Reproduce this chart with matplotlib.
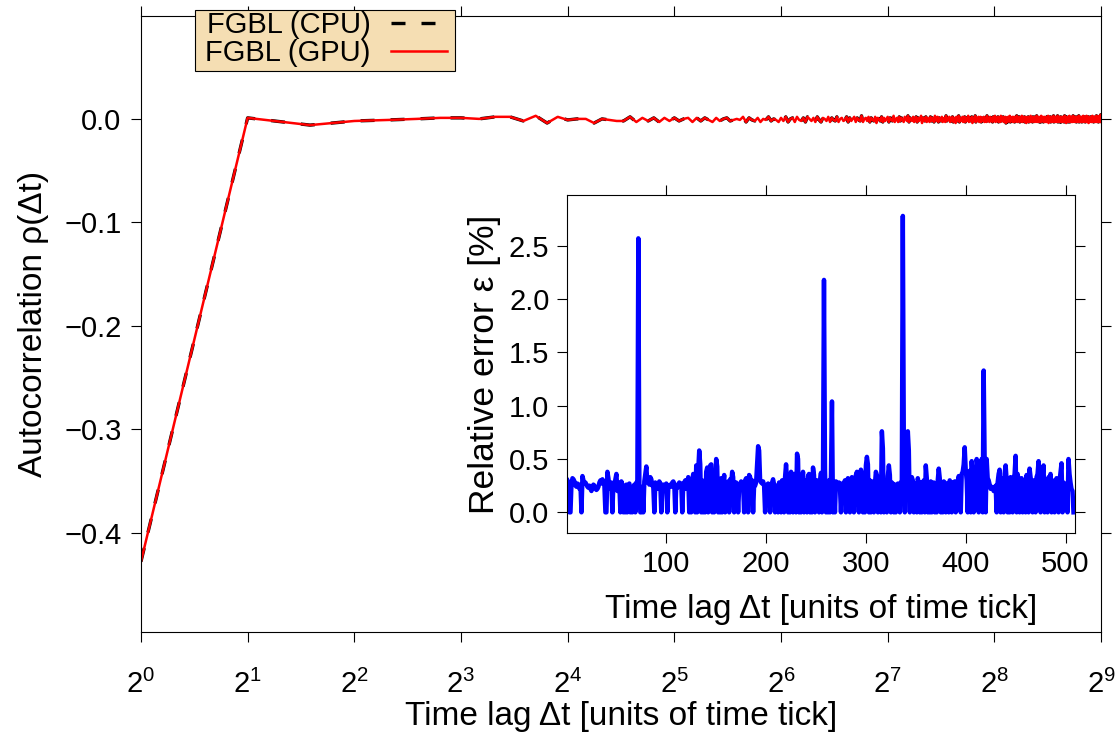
import numpy as np
import matplotlib
matplotlib.use("Agg")
import matplotlib.pyplot as plt
from matplotlib.patches import Rectangle

plt.rcParams["font.family"] = ["Liberation Sans", "DejaVu Sans"]
plt.rcParams["mathtext.fontset"] = "custom"
plt.rcParams["mathtext.rm"] = "Liberation Sans"
plt.rcParams["mathtext.it"] = "Liberation Sans"

# autocorrelation at lags 1..512, in units of 1e-3
acf_milli = [
    -428, 1, -6, -2, -1, 0, 1, 1, 0, 2, 2, -2, 3, -4, 2, -1,
    0, 0, -4, 0, -1, -2, -2, 2, -3, 1, -2, 1, -3, 1, -2, 1,
    -2, 0, 1, -3, 1, -2, 1, -1, -3, 1, -2, 0, 1, -2, -1, 0,
    -1, 2, -3, 1, -1, -2, 1, -3, 0, -1, 2, -2, 0, -1, -3, 1,
    -2, 2, -3, 0, 1, -3, 2, -1, -2, 1, -3, 2, 0, -2, 1, -3,
    2, -1, -3, 1, 0, -2, 2, -3, 1, -1, -2, 2, -3, 0, 1, -2,
    -1, 2, -3, 1, -2, 0, 2, -3, 1, -1, -2, 3, -3, 0, 1, -2,
    2, -3, 1, -1, -2, 2, -4, 1, 0, -2, 2, -3, 1, -2, 0, 2,
    -3, 1, -1, -2, 3, -3, 0, 1, -3, 2, -2, 1, -1, -3, 2, 0,
    -2, 3, -3, 1, -1, -2, 2, -3, 0, 2, -3, 1, -2, 0, 3, -4,
    1, -1, -2, 2, -3, 1, 0, -3, 2, -2, 1, -1, -3, 3, 0, -2,
    2, -3, 1, -1, -2, 2, -3, 0, 1, -3, 3, -2, 0, -1, 2, -3,
    1, -2, 2, -3, 0, 1, -4, 2, -1, -2, 3, -3, 1, -1, -2, 2,
    -3, 0, 2, -3, 1, -2, 0, 3, -3, 1, -1, -2, 2, -4, 1, 0,
    -2, 3, -3, 1, -1, -2, 2, -3, 0, 2, -3, 1, -2, 0, 2, -3,
    1, -1, -3, 3, -2, 0, 1, -3, 2, -2, 1, -1, -3, 2, 0, -2,
    3, -3, 1, -1, -2, 2, -3, 0, 1, -3, 3, -2, 0, -1, 2, -3,
    1, -2, 2, -4, 0, 1, -3, 2, -1, -2, 3, -3, 1, -1, -2, 2,
    -3, 0, 2, -3, 1, -2, 0, 3, -3, 1, -1, -2, 2, -3, 1, 0,
    -2, 3, -3, 1, -1, -2, 2, -3, 0, 2, -4, 1, -2, 0, 2, -3,
    1, -1, -3, 3, -2, 0, 1, -3, 2, -2, 1, -1, -3, 2, 0, -2,
    3, -3, 1, -1, -2, 2, -3, 0, 1, -3, 3, -2, 0, -1, 2, -3,
    1, -2, 2, -3, 0, 1, -3, 2, -1, -2, 3, -4, 1, -1, -2, 2,
    -3, 0, 2, -3, 1, -2, 0, 3, -3, 1, -1, -2, 2, -3, 1, 0,
    -2, 3, -3, 1, -1, -2, 2, -3, 0, 2, -3, 1, -2, 0, 2, -3,
    1, -1, -3, 3, -2, 0, 1, -4, 2, -2, 1, -1, -3, 2, 0, -2,
    3, -3, 1, -1, -2, 2, -3, 0, 1, -3, 3, -2, 0, -1, 2, -3,
    1, -2, 2, -3, 0, 1, -3, 2, -1, -2, 3, -3, 1, -1, -2, 2,
    -3, 0, 2, -3, 1, -2, 0, 3, -3, 1, -1, -2, 2, -3, 1, 0,
    -2, 3, -3, 1, -1, -2, 2, -4, 0, 2, -3, 1, -2, 0, 2, -3,
    1, -1, -3, 3, -2, 0, 1, -3, 2, -2, 1, -1, -3, 2, 0, -2,
    3, -3, 1, -1, -2, 2, -3, 0, 1, -3, 3, -2, 0, -1, 4, -3,
]

# relative error between CPU and GPU at lags 1..508, in units of 0.01 %
err_centi = [
    30, 28, 0, 0, 27, 32, 31, 29, 25, 24,
    27, 25, 22, 26, 0, 34, 30, 27, 28, 26,
    24, 23, 25, 22, 20, 24, 26, 25, 22, 21,
    22, 24, 28, 30, 27, 31, 29, 25, 0, 0,
    38, 32, 24, 22, 28, 0, 27, 25, 31, 36,
    20, 28, 26, 0, 29, 26, 0, 24, 0, 26,
    0, 25, 27, 0, 22, 0, 24, 26, 0, 28,
    25, 257, 26, 0, 0, 24, 0, 29, 36, 43,
    28, 30, 26, 33, 31, 25, 24, 0, 28, 27,
    26, 22, 29, 27, 0, 21, 26, 25, 24, 27,
    0, 23, 25, 26, 24, 28, 29, 27, 0, 25,
    23, 26, 28, 24, 27, 0, 26, 28, 30, 22,
    27, 33, 0, 29, 0, 30, 36, 32, 0, 44,
    0, 39, 58, 45, 0, 30, 0, 28, 0, 38,
    42, 0, 36, 44, 45, 0, 33, 0, 30, 50,
    43, 0, 29, 0, 32, 0, 26, 35, 0, 24,
    27, 29, 0, 31, 26, 38, 33, 0, 26, 28,
    25, 0, 24, 27, 29, 28, 26, 0, 30, 32,
    28, 0, 35, 33, 27, 30, 0, 26, 25, 28,
    45, 62, 58, 30, 28, 27, 29, 25, 0, 23,
    26, 27, 24, 0, 23, 28, 31, 26, 0, 25,
    24, 0, 28, 27, 0, 30, 29, 0, 33, 45,
    30, 0, 27, 0, 38, 28, 0, 36, 33, 0,
    55, 50, 0, 27, 0, 26, 38, 0, 28, 30,
    0, 34, 36, 0, 29, 0, 42, 35, 0, 28,
    30, 26, 0, 29, 37, 0, 33, 218, 40, 0,
    28, 0, 30, 0, 35, 104, 0, 27, 0, 29,
    26, 27, 28, 24, 0, 27, 25, 26, 30, 0,
    28, 32, 27, 0, 29, 33, 30, 0, 26, 35,
    38, 30, 0, 33, 40, 36, 0, 28, 0, 44,
    52, 45, 0, 30, 0, 25, 29, 0, 26, 38,
    35, 0, 28, 30, 0, 76, 60, 0, 24, 26,
    0, 34, 44, 35, 0, 28, 27, 0, 26, 0,
    25, 27, 26, 0, 28, 30, 278, 60, 0, 32,
    30, 76, 58, 0, 28, 33, 30, 0, 27, 24,
    0, 32, 26, 0, 28, 0, 26, 30, 0, 44,
    32, 0, 26, 0, 29, 0, 27, 28, 0, 26,
    0, 30, 41, 32, 0, 27, 0, 29, 28, 0,
    26, 27, 0, 30, 26, 0, 28, 27, 29, 0,
    24, 29, 34, 30, 0, 36, 38, 45, 61, 40,
    30, 0, 35, 39, 0, 48, 32, 0, 36, 28,
    50, 42, 0, 35, 30, 50, 0, 133, 45, 0,
    50, 32, 30, 26, 22, 24, 23, 20, 21, 25,
    0, 28, 36, 40, 0, 32, 27, 0, 36, 44,
    30, 0, 27, 0, 33, 28, 0, 31, 36, 53,
    0, 36, 30, 0, 28, 32, 0, 27, 30, 0,
    35, 28, 0, 41, 33, 26, 0, 30, 29, 0,
    33, 36, 48, 30, 0, 29, 35, 44, 0, 30,
    27, 0, 33, 28, 36, 0, 30, 29, 0, 26,
    32, 26, 0, 29, 38, 46, 0, 28, 27, 24,
    26, 0, 50, 36, 28, 22, 20, 0,
]

acf = np.array(acf_milli) / 1000.0
lags = np.arange(1, len(acf) + 1)
err = np.array(err_centi) / 100.0
err_lags = np.arange(1, len(err) + 1)

main_yticks = [-0.4, -0.3, -0.2, -0.1, 0.0]
inset_yticks = [0.0, 0.5, 1.0, 1.5, 2.0, 2.5]
inset_xticks = [100, 200, 300, 400, 500]


def fmt(v):
    s = "%.1f" % abs(v)
    return ("\u2212" + s) if v < 0 else s


TICK_FS = 21
LABEL_FS = 24
W, H = 1116, 736

fig = plt.figure(figsize=(11.16, 7.36), dpi=100)
ax = fig.add_axes([0.1263, 0.1413, 0.8603, 0.8370])

ax.plot(lags, acf, color="black", lw=2.4, dashes=(4.2, 4.8), label="FGBL (CPU)")
ax.plot(lags, acf, color="red", lw=1.8, label="FGBL (GPU)")

ax.set_xscale("log", base=2)
ax.set_xlim(1, 512)
ax.set_ylim(-0.496, 0.0995)
ax.set_xticks([2 ** k for k in range(10)])
ax.set_xticklabels([r"$2^{%d}$" % k for k in range(10)])
ax.xaxis.set_minor_locator(matplotlib.ticker.NullLocator())
ax.set_yticks(main_yticks)
ax.set_yticklabels([fmt(v) for v in main_yticks])
ax.tick_params(direction="out", length=7, width=0.8, labelsize=TICK_FS,
               top=True, right=True, pad=7)
ax.tick_params(axis="x", pad=20)
for sp in ax.spines.values():
    sp.set_linewidth(0.8)
ax.set_xlabel("Time lag Δt [units of time tick]", fontsize=LABEL_FS, labelpad=2)
ax.set_ylabel("Autocorrelation ρ(Δt)", fontsize=24, labelpad=11)

# legend box drawn by hand so the side padding can be wider than the top one
box = Rectangle((195 / W, 1 - 70.7 / H), 260 / W, 60.7 / H,
                transform=fig.transFigure, facecolor="#F5DEB3",
                edgecolor="black", lw=0.8, clip_on=False, zorder=4.9)
ax.add_patch(box)
leg = ax.legend(loc="upper left", bbox_to_anchor=(204 / W, 1 - 10 / H),
                bbox_transform=fig.transFigure, fontsize=21,
                markerfirst=False, frameon=False, borderpad=0.05,
                labelspacing=0.0, handlelength=1.9, handletextpad=0.7,
                borderaxespad=0)

# inset with the relative error
ins = fig.add_axes([0.5085, 0.2758, 0.4552, 0.4592])
ins.plot(err_lags, err, color="#0000FF", lw=3.2, solid_joinstyle="round")
ins.set_xlim(1, 510)
ins.set_ylim(-0.194, 2.976)
ins.set_xticks(inset_xticks)
ins.set_yticks(inset_yticks)
ins.set_yticklabels([fmt(v) for v in inset_yticks])
ins.tick_params(direction="out", length=7, width=0.8, labelsize=TICK_FS,
                top=True, right=True, pad=6)
ins.tick_params(axis="x", pad=5)
for sp in ins.spines.values():
    sp.set_linewidth(0.8)
ins.set_xlabel("Time lag Δt [units of time tick]", fontsize=LABEL_FS, labelpad=12)
ins.set_ylabel("Relative error ε [%]", fontsize=25.5, labelpad=6)

fig.savefig("out.png", dpi=100)
